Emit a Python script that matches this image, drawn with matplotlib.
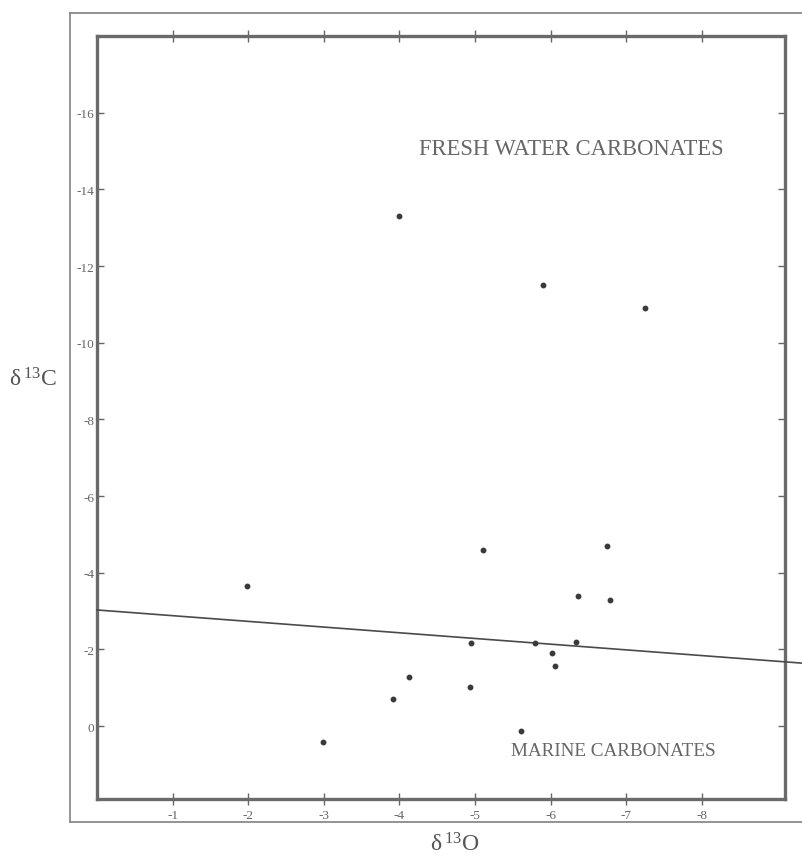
import matplotlib
matplotlib.use("Agg")
import matplotlib.pyplot as plt
from matplotlib.lines import Line2D

plt.rcParams['font.family'] = ['Liberation Serif', 'DejaVu Serif']
plt.rcParams['mathtext.fontset'] = 'custom'
plt.rcParams['mathtext.rm'] = 'Liberation Serif'

# data: d18O (x) and d13C (y)
d18O = [-4.0, -5.9, -7.25, -5.1, -6.74, -6.36, -6.78, -1.99, -4.95, -5.79,
        -6.34, -6.02, -6.06, -4.13, -4.93, -3.91, -5.61, -2.99]
d13C = [-13.3, -11.5, -10.9, -4.6, -4.7, -3.4, -3.3, -3.65, -2.17, -2.17,
        -2.2, -1.9, -1.57, -1.28, -1.02, -0.7, 0.13, 0.42]

# dividing line endpoints (x, y)
line_x = [0.0, -9.35]
line_y = [-3.03, -1.64]

xticks = [-1, -2, -3, -4, -5, -6, -7, -8]
xticklabels = ['-1', '-2', '-3', '-4', '-5', '-6', '-7', '-8']
yticks = [0, -2, -4, -6, -8, -10, -12, -14, -16]
yticklabels = ['0', '-2', '-4', '-6', '-8', '-10', '-12', '-14', '-16']

W, H = 803, 862
fig = plt.figure(figsize=(W / 100, H / 100), dpi=100)
ax = fig.add_axes([97 / W, 1 - 800 / H, (785 - 97) / W, (800 - 37) / H])

ax.set_xlim(0, -9.1)
ax.set_ylim(1.9, -18.0)

ink = '#4a4a4a'
ax.plot(line_x, line_y, color=ink, lw=1.2, clip_on=False, zorder=3)
ax.plot(d18O, d13C, 'o', color='#3a3a3a', ms=3.2, zorder=4)

for s in ax.spines.values():
    s.set_color('#6a6a6a')
    s.set_linewidth(2.4)

ax.set_xticks(xticks)
ax.set_xticklabels(xticklabels)
ax.set_yticks(yticks)
ax.set_yticklabels(yticklabels)
ax.tick_params(axis='both', direction='in', length=5, width=1, color='#666666',
               labelsize=9.5, labelcolor='#666666', top=True, right=True, pad=2)
ax.tick_params(axis='x', direction='inout', length=8, pad=3)

ax.text(0.689, 0.852, 'FRESH WATER CARBONATES', transform=ax.transAxes,
        fontsize=16.3, color='#666666', ha='center', va='center')
ax.text(0.751, 0.063, 'MARINE CARBONATES', transform=ax.transAxes,
        fontsize=13.8, color='#666666', ha='center', va='center')

fig.text(33 / W, 1 - 380 / H, r'$\mathregular{\delta^{\,13}C}$', fontsize=17,
         color='#555555', ha='center', va='center')
fig.text(455 / W, 1 - 845 / H, r'$\mathregular{\delta^{\,13}O}$', fontsize=17,
         color='#555555', ha='center', va='center')

# outer frame
frame_kw = dict(color='#8a8a8a', lw=1.3, transform=fig.transFigure, clip_on=False)
fig.add_artist(Line2D([70 / W, 70 / W], [1 - 823 / H, 1 - 14 / H], **frame_kw))
fig.add_artist(Line2D([70 / W, 1.0], [1 - 14 / H, 1 - 14 / H], **frame_kw))
fig.add_artist(Line2D([70 / W, 1.0], [1 - 823 / H, 1 - 823 / H], **frame_kw))

fig.savefig('out.png', dpi=100)
